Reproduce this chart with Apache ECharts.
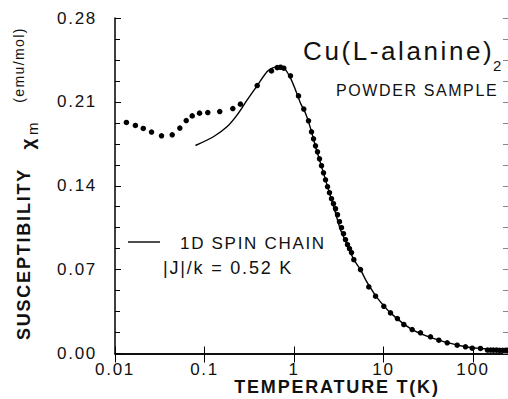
<!DOCTYPE html>
<html>
<head>
<meta charset="utf-8">
<script src="https://cdn.jsdelivr.net/npm/echarts@6/dist/echarts.min.js"></script>
<style>
  html, body { margin: 0; padding: 0; background: #fff; }
  #chart { width: 508px; height: 399px; }
  /* old hand lettering is wide, spread the glyphs a little */
  #chart text { letter-spacing: 0.1em; }
</style>
</head>
<body>
<div id="chart"></div>
<script>
// measured points, T in K and chi in emu/mol
const dataT = [
  0.0134, 0.0169, 0.0207, 0.0256, 0.0331, 0.0436, 0.053, 0.0625, 0.0729, 0.088,
  0.1088, 0.148, 0.207, 0.252, 0.388,
  0.5605, 0.649, 0.707, 0.769, 0.914, 1.123, 1.286, 1.452,
  1.569, 1.652, 1.739, 1.831, 1.927, 2.029, 2.136, 2.249, 2.368, 2.492,
  2.624, 2.762, 2.909, 3.062, 3.224, 3.394, 3.573, 3.762, 3.962, 4.17, 4.391,
  4.66, 5.53, 6.85, 8.15, 10.08, 11.97, 14.3, 16.86, 20.9, 25.9, 33.5, 41.5,
  51.5, 66.6, 82.4, 98, 121,
  145, 157, 169, 183, 198, 214, 231, 240
];
const dataChi = [
  0.1928, 0.1903, 0.1878, 0.1848, 0.1817, 0.1825, 0.1881, 0.1944, 0.1983, 0.2006,
  0.2011, 0.2019, 0.2044, 0.2081, 0.2236,
  0.2358, 0.2386, 0.2389, 0.2381, 0.2317, 0.215, 0.204, 0.1942,
  0.185, 0.1792, 0.1733, 0.1683, 0.1625, 0.1567, 0.1508, 0.145, 0.1392, 0.1342,
  0.1292, 0.125, 0.1208, 0.1158, 0.11, 0.105, 0.1, 0.095, 0.0908, 0.0875, 0.0842,
  0.0783, 0.07, 0.0556, 0.0478, 0.0394, 0.0339, 0.0292, 0.0242, 0.02, 0.0173, 0.0139, 0.0111,
  0.0089, 0.0069, 0.0056, 0.0044, 0.0042,
  0.0029, 0.0029, 0.0028, 0.0028, 0.0027, 0.0027, 0.0027, 0.0026
];

// 1D spin chain curve, |J|/k = 0.52 K
const fitT = [
  0.0793, 0.127, 0.1794, 0.2317, 0.3, 0.388, 0.502, 0.571, 0.649, 0.707,
  0.804, 0.914, 1.039, 1.182, 1.344, 1.528, 1.739, 1.978, 2.249, 2.558,
  2.909, 3.308, 3.93, 4.66, 5.53, 6.3, 7.16, 8.5, 11.97, 20.9,
  41.5, 82.4, 121, 231
];
const fitChi = [
  0.1736, 0.1811, 0.1894, 0.1992, 0.2117, 0.2236, 0.2353, 0.2381, 0.2394, 0.2389,
  0.2367, 0.2298, 0.22, 0.2089, 0.2006, 0.1881, 0.1728, 0.1589, 0.145, 0.1311,
  0.1172, 0.1033, 0.0908, 0.0783, 0.07, 0.0617, 0.0548, 0.0464, 0.0339, 0.02,
  0.0111, 0.0056, 0.0042, 0.0029
];

const xTickLabels = {'-2': '0.01', '-1': '0.1', '0': '1', '1': '10', '2': '100'};
const yTicks = [0, 0.07, 0.14, 0.21, 0.28];

const FONT = 'Liberation Sans';
const ink = '#000';

const chart = echarts.init(document.getElementById('chart'), null, {renderer: 'svg'});

const xCommon = {
  type: 'log',
  logBase: 10,
  min: 0.01,
  max: 246,
  splitLine: {show: false},
  minorTick: {show: false},
  axisLine: {show: true, lineStyle: {color: ink, width: 1.5}},
};
const yCommon = {
  type: 'value',
  min: yTicks[0],
  max: yTicks[yTicks.length - 1],
  interval: 0.07,
  splitLine: {show: false},
};

const option = {
  backgroundColor: '#fff',
  animation: false,
  grid: {left: 115, right: 0, top: 18, bottom: 45.5, containLabel: false, outerBoundsMode: 'none'},
  xAxis: [
    Object.assign({}, xCommon, {
      position: 'bottom',
      axisTick: {inside: true, length: 7, lineStyle: {color: ink, width: 1}},
      axisLabel: {
        margin: 7,
        showMaxLabel: false,
        color: '#111',
        fontFamily: FONT,
        fontSize: 17,
        formatter: function (v) {
          const k = Math.round(Math.log10(v));
          return Math.abs(Math.log10(v) - k) < 1e-6 && xTickLabels[k] !== undefined ? xTickLabels[k] : '';
        }
      }
    }),
    Object.assign({}, xCommon, {
      position: 'top',
      axisTick: {inside: true, length: 9, lineStyle: {color: ink, width: 1}},
      axisLabel: {show: false}
    })
  ],
  yAxis: [
    Object.assign({}, yCommon, {
      position: 'left',
      axisLine: {show: true, lineStyle: {color: ink, width: 1.5}},
      axisTick: {inside: true, length: 6, lineStyle: {color: ink}},
      minorTick: {show: true, splitNumber: 4, length: 5, lineStyle: {color: ink}},
      axisLabel: {
        margin: 18,
        color: '#111',
        fontFamily: FONT,
        fontSize: 17,
        formatter: v => v.toFixed(2)
      }
    }),
    Object.assign({}, yCommon, {
      position: 'right',
      axisLine: {show: false},
      axisTick: {inside: true, length: 5, lineStyle: {color: '#888'}},
      minorTick: {show: true, splitNumber: 4, length: 5, lineStyle: {color: '#888'}},
      axisLabel: {show: false}
    })
  ],
  series: [
    {
      name: '1D SPIN CHAIN',
      type: 'line',
      data: fitT.map((t, i) => [t, fitChi[i]]),
      showSymbol: false,
      smooth: 0.3,
      lineStyle: {color: ink, width: 1.4},
      z: 2
    },
    {
      name: 'data',
      type: 'scatter',
      data: dataT.map((t, i) => [t, dataChi[i]]),
      symbolSize: 5.5,
      itemStyle: {color: ink, opacity: 1},
      z: 3
    }
  ],
  graphic: [
    {type: 'text', style: {x: 303, y: 51, text: 'Cu(L-alanine)', font: '26px "Liberation Sans"', fill: '#111', textAlign: 'left', textVerticalAlign: 'middle'}},
    {type: 'text', style: {x: 493, y: 65, text: '2', font: '15px "Liberation Sans"', fill: '#111', textAlign: 'left', textVerticalAlign: 'middle'}},
    {type: 'text', style: {x: 336, y: 90, text: 'POWDER SAMPLE', font: '16px "Liberation Sans"', fill: '#111', textAlign: 'left', textVerticalAlign: 'middle'}},
    {type: 'line', shape: {x1: 128, y1: 242, x2: 160, y2: 242}, style: {stroke: ink, lineWidth: 1.4}},
    {type: 'text', style: {x: 180, y: 243.5, text: '1D SPIN CHAIN', font: '17px "Liberation Sans"', fill: '#111', textAlign: 'left', textVerticalAlign: 'middle'}},
    {type: 'text', style: {x: 163, y: 268, text: '|J|/k = 0.52 K', font: '18px "Liberation Sans"', fill: '#111', textAlign: 'left', textVerticalAlign: 'middle'}},
    {type: 'text', style: {x: 337, y: 387, text: 'TEMPERATURE T(K)', font: 'bold 18px "Liberation Sans"', fill: '#111', textAlign: 'center', textVerticalAlign: 'middle'}},
    {type: 'text', x: 24, y: 254, rotation: Math.PI / 2, style: {x: 0, y: 0, text: 'SUSCEPTIBILITY', font: 'bold 18px "Liberation Sans"', fill: '#111', textAlign: 'center', textVerticalAlign: 'middle'}},
    {type: 'text', x: 27, y: 143, rotation: Math.PI / 2, style: {x: 0, y: 0, text: 'χ', font: 'bold 19px "Liberation Sans"', fill: '#111', textAlign: 'center', textVerticalAlign: 'middle'}},
    {type: 'text', x: 32, y: 128, rotation: Math.PI / 2, style: {x: 0, y: 0, text: 'm', font: '15px "Liberation Sans"', fill: '#111', textAlign: 'center', textVerticalAlign: 'middle'}},
    {type: 'text', x: 19, y: 65, rotation: Math.PI / 2, style: {x: 0, y: 0, text: '(emu/mol)', font: '14px "Liberation Sans"', fill: '#111', textAlign: 'center', textVerticalAlign: 'middle'}}
  ]
};

chart.setOption(option);
</script>
</body>
</html>
